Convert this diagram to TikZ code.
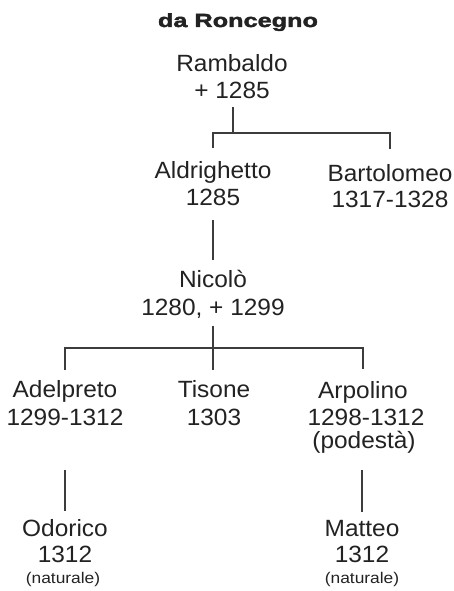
\documentclass[tikz,border=0pt]{standalone}
\usepackage{fontspec}
\setmainfont{Liberation Sans}
\newfontfamily\namef[FakeStretch=1.04]{Liberation Sans}
\newfontfamily\smallf[FakeStretch=1.12]{Liberation Sans}
\newfontfamily\titlef[FakeStretch=1.33,FakeBold=2.2]{Liberation Sans Bold}
\definecolor{ink}{HTML}{222222}
\definecolor{linec}{HTML}{3C3C3C}
\tikzset{
  nm/.style={anchor=base, inner sep=0pt, outer sep=0pt, text=ink, font=\namef\fontsize{23.5}{27}\selectfont},
  sm/.style={anchor=base, inner sep=0pt, outer sep=0pt, text=ink, font=\smallf\fontsize{15.5}{18}\selectfont},
  ttl/.style={anchor=base, inner sep=0pt, text=ink, font=\titlef\fontsize{19}{22}\selectfont},
  ln/.style={draw=linec, line width=1.4pt}
}
\begin{document}
\begin{tikzpicture}[x=1pt,y=-1pt]
\useasboundingbox (0,0) rectangle (454,591);
% title
\node[ttl] (title) at (238,27) {da Roncegno};
% generation 1
\node[nm] (ramb)  at (232,72)  {Rambaldo};
\node[nm] (rambd) at (232,98.5) {+ 1285};
% generation 2
\node[nm] (aldr)  at (213,178) {Aldrighetto};
\node[nm] (aldrd) at (213,205) {1285};
\node[nm] (bart)  at (390,181) {Bartolomeo};
\node[nm] (bartd) at (390,207.5) {1317-1328};
% generation 3
\node[nm] (nic)  at (213,287) {Nicolò};
\node[nm] (nicd) at (213,315) {1280, + 1299};
% generation 4
\node[nm] (adel)  at (65,397) {Adelpreto};
\node[nm] (adeld) at (65,425) {1299-1312};
\node[nm] (tis)   at (214,397) {Tisone};
\node[nm] (tisd)  at (214,425) {1303};
\node[nm] (arp)   at (363,398) {Arpolino};
\node[nm] (arpd)  at (366,425) {1298-1312};
\node[nm] (arpp)  at (364,448) {(podestà)};
% generation 5
\node[nm] (odo)   at (65,536) {Odorico};
\node[nm] (odod)  at (65,562) {1312};
\node[sm] (odon)  at (63,583) {(naturale)};
\node[nm] (mat)   at (362,536) {Matteo};
\node[nm] (matd)  at (362,562) {1312};
\node[sm] (matn)  at (362,583) {(naturale)};
% junctions
\coordinate (j1) at (233,133);
\coordinate (j2) at (213,348);
% connectors
\draw[ln, shorten <=8.5pt] (rambd.south -| j1) -- (j1);
\draw[ln] ([yshift=13pt]aldr.north) |- (j1) -| ([yshift=15pt]bart.north);
\draw[ln, shorten <=15pt, shorten >=10pt] (aldrd.south) -- (aldrd.south |- nic.north);
\draw[ln, shorten <=7.5pt, shorten >=10pt] (nicd.south) -- (nicd.south |- tis.north);
\draw[ln] ([yshift=10pt]adel.north) |- (j2) -| ([yshift=12pt]arp.north);
\draw[ln, shorten <=45pt, shorten >=8pt] (adeld.south) -- (adeld.south |- odo.north);
\draw[ln, shorten <=17pt, shorten >=8pt] (mat.north |- arpp.south) -- (mat.north);
\end{tikzpicture}
\end{document}
